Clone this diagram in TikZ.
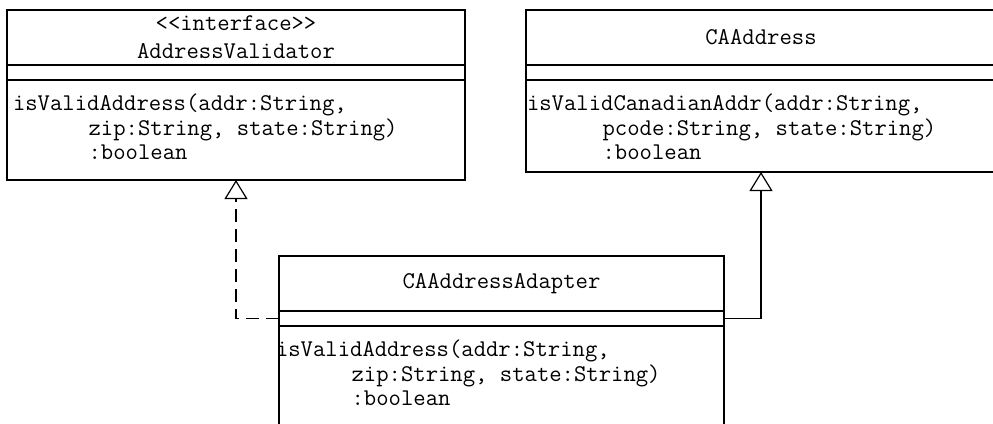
\documentclass[tikz,border=0pt]{standalone}
\usepackage{fontspec}
\usetikzlibrary{positioning, arrows.meta}

\newcommand{\umlfont}{\ttfamily\fontsize{24}{24.5}\selectfont}
\newcommand{\ind}{\hspace*{3.15em}}

\begin{document}
\begin{tikzpicture}[
  x=1pt, y=1pt, line width=1.2pt,
  every node/.style={outer sep=0pt},
  classhead/.style={draw, minimum height=55pt, inner sep=0pt, align=center, font=\umlfont},
  classattr/.style={draw, minimum height=15pt, inner sep=0pt},
  classops/.style={draw, inner sep=0pt, minimum height=#1},
  optext/.style={anchor=north west, inner sep=0pt, align=left, font=\umlfont},
  realize/.style={-{Triangle[open, length=19pt, width=23pt]}, dash pattern=on 13pt off 7pt},
  inherit/.style={-{Triangle[open, length=19pt, width=23pt]}},
]
\useasboundingbox (0,0) rectangle (993,-423);
\clip (0,0) rectangle (993,-423);

% --- interface ---
\node[classhead, minimum width=458pt, anchor=north west] (valhead) at (7,-10)
  {{<}{<}interface{>}{>}\\[3.5pt]AddressValidator};
\node[classattr, minimum width=458pt, below=0pt of valhead] (valattr) {};
\node[classops=100pt, minimum width=458pt, below=0pt of valattr] (valops) {};
\node[optext] (valtext) at ([xshift=6pt, yshift=-14pt]valops.north west)
  {isValidAddress(addr:String,\\ \ind zip:String, state:String)\\ \ind :boolean};

% --- adaptee ---
\node[classhead, minimum width=470pt, anchor=north west] (cahead) at (526,-10) {CAAddress};
\node[classattr, minimum width=470pt, below=0pt of cahead] (caattr) {};
\node[classops=92pt, minimum width=470pt, below=0pt of caattr] (caops) {};
\node[optext] (catext) at ([xshift=1pt, yshift=-14pt]caops.north west)
  {isValidCanadianAddr(addr:String,\\ \ind pcode:String, state:String)\\ \ind :boolean};

% --- adapter ---
\node[classhead, minimum width=445pt, anchor=north west] (adphead) at (279,-256) {CAAddressAdapter};
\node[classattr, minimum width=445pt, below=0pt of adphead] (adpattr) {};
\node[classops=120pt, minimum width=445pt, below=0pt of adpattr] (adpops) {};
\node[optext] (adptext) at ([xshift=-3pt, yshift=-14pt]adpops.north west)
  {isValidAddress(addr:String,\\ \ind zip:String, state:String)\\ \ind :boolean};

% --- relations ---
\draw[realize] (adpattr.west) -| (valops.south);
\draw[inherit] (adpattr.east) -| (caops.south);

\end{tikzpicture}
\end{document}
